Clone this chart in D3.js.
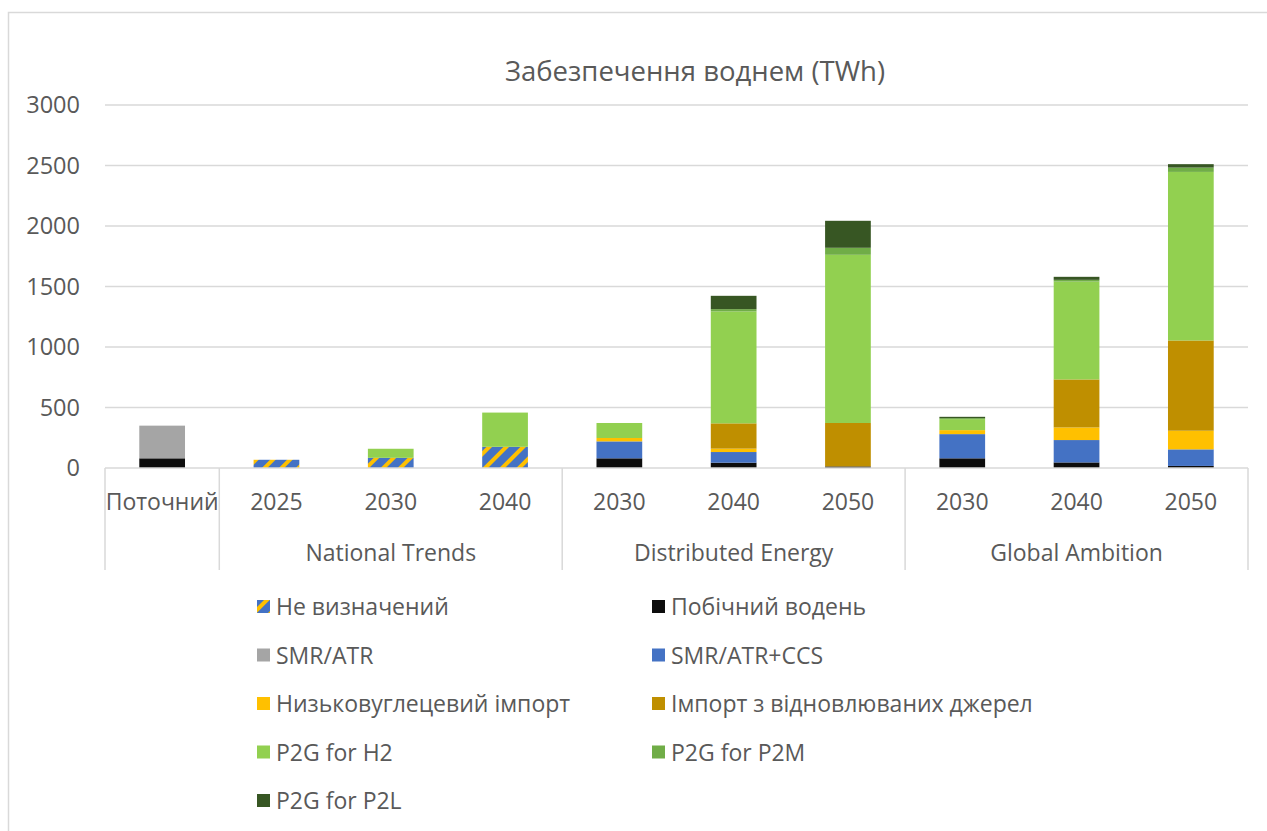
<!DOCTYPE html>
<html>
<head>
<meta charset="utf-8">
<script src="https://cdn.jsdelivr.net/npm/d3@7"></script>
<style>
body { margin:0; background:#fff; }
text { font-family:"Open Sans", "Noto Sans", sans-serif; fill:#595959; }
</style>
</head>
<body>
<script>
// categories along x (index is the key, labels repeat)
var categories = ["Поточний","2025","2030","2040","2030","2040","2050","2030","2040","2050"];
var groupNames = ["", "National Trends", "Distributed Energy", "Global Ambition"];
var groupStarts = [0, 1, 4, 7];
var groupEnds = [1, 4, 7, 10];
var yTicks = [0, 500, 1000, 1500, 2000, 2500, 3000];

var seriesNames = ["Не визначений","Побічний водень","SMR/ATR","SMR/ATR+CCS","Низьковуглецевий імпорт","Імпорт з відновлюваних джерел","P2G for H2","P2G for P2M","P2G for P2L"];
var undef      = [0, 68, 84, 175, 0, 0, 0, 0, 0, 0];
var byproduct  = [80, 0, 0, 0, 80, 44, 13, 80, 46, 17];
var smrAtr     = [270, 0, 0, 0, 0, 0, 0, 0, 0, 0];
var smrCcs     = [0, 0, 0, 0, 140, 88, 0, 200, 185, 137];
var lowCarbon  = [0, 0, 0, 0, 28, 28, 0, 33, 104, 154];
var renewImp   = [0, 0, 0, 0, 0, 209, 359, 0, 397, 746];
var p2gH2      = [0, 0, 75, 283, 124, 925, 1390, 91, 809, 1393];
var p2gP2M     = [0, 0, 0, 0, 0, 19, 58, 8, 14, 36];
var p2gP2L     = [0, 0, 0, 0, 0, 110, 223, 11, 25, 28];

var colors = ["url(#hatch)","#0D0D0D","#A5A5A5","#4472C4","#FFC000","#BF8F00","#92D050","#70AD47","#375623"];

var seriesVals = [undef, byproduct, smrAtr, smrCcs, lowCarbon, renewImp, p2gH2, p2gP2M, p2gP2L];
var rows = categories.map(function(c, i){
  var r = {idx:i};
  seriesNames.forEach(function(s, j){ r[s] = seriesVals[j][i]; });
  return r;
});

var width = 1267, height = 831;
var plot = {left:105, right:1248, top:105, bottom:468};

var svg = d3.select("body").append("svg").attr("width",width).attr("height",height);

var defs = svg.append("defs");
var pat = defs.append("pattern").attr("id","hatch").attr("patternUnits","userSpaceOnUse")
  .attr("width",12).attr("height",12).attr("patternTransform","rotate(45)");
pat.append("rect").attr("width",12).attr("height",12).attr("fill","#4472C4");
pat.append("rect").attr("x",0).attr("width",4).attr("height",12).attr("fill","#FFC000");

// outer chart border
svg.append("rect").attr("x",8.5).attr("y",12.5).attr("width",1270).attr("height",830)
  .attr("fill","none").attr("stroke","#d9d9d9").attr("stroke-width",1.5);

var x = d3.scaleBand().domain(d3.range(categories.length)).range([plot.left, plot.right])
  .paddingInner(0.6).paddingOuter(0.3);
var y = d3.scaleLinear().domain([0, 3000]).range([plot.bottom, plot.top]);

// gridlines
svg.append("g").selectAll("line").data(yTicks.slice(1)).enter().append("line")
  .attr("x1",plot.left).attr("x2",plot.right)
  .attr("y1",function(d){ return y(d); }).attr("y2",function(d){ return y(d); })
  .attr("stroke","#d9d9d9").attr("stroke-width",1.5);

// y tick labels
svg.append("g").selectAll("text").data(yTicks).enter().append("text")
  .attr("x",80).attr("y",function(d){ return y(d)+8; })
  .attr("text-anchor","end").style("font-size","23.5px")
  .text(function(d){ return d; });

// title
svg.append("text").attr("x",695).attr("y",81).attr("text-anchor","middle")
  .style("font-size","27.5px").text("Забезпечення воднем (TWh)");

// stacked bars
var stack = d3.stack().keys(seriesNames);
var layers = stack(rows);
svg.append("g").selectAll("g").data(layers).enter().append("g")
  .attr("fill",function(d,i){ return colors[i]; })
  .selectAll("rect").data(function(d){ return d; }).enter().append("rect")
    .filter(function(d){ return d[1]-d[0] > 0; })
    .attr("x",function(d,i){ return x(d.data.idx); })
    .attr("width",x.bandwidth())
    .attr("y",function(d){ return y(d[1]); })
    .attr("height",function(d){ return y(d[0]) - y(d[1]); });

// category axis
var step = x.step();
function edge(i){ return plot.left + i*step; }
var axisG = svg.append("g");
axisG.append("line").attr("x1",plot.left).attr("x2",plot.right).attr("y1",plot.bottom).attr("y2",plot.bottom)
  .attr("stroke","#d9d9d9").attr("stroke-width",1.5);
var dividers = [0].concat(groupEnds);
axisG.selectAll("line.div").data(dividers).enter().append("line").attr("class","div")
  .attr("x1",function(d){ return edge(d); }).attr("x2",function(d){ return edge(d); })
  .attr("y1",plot.bottom).attr("y2",570)
  .attr("stroke","#d9d9d9").attr("stroke-width",1.5);
axisG.selectAll("text.cat").data(categories).enter().append("text").attr("class","cat")
  .attr("x",function(d,i){ return x(i)+x.bandwidth()/2; }).attr("y",510)
  .attr("text-anchor","middle").style("font-size","23px")
  .text(function(d){ return d; });
axisG.selectAll("text.grp").data(groupNames).enter().append("text").attr("class","grp")
  .attr("x",function(d,i){ return (edge(groupStarts[i])+edge(groupEnds[i]))/2; }).attr("y",561)
  .attr("text-anchor","middle").style("font-size","23px")
  .text(function(d){ return d; });

// legend
var legend = svg.append("g").selectAll("g").data(seriesNames).enter().append("g")
  .attr("transform",function(d,i){
    var col = i % 2, row = Math.floor(i/2);
    return "translate("+(col ? 652 : 257)+","+(607 + row*48.5)+")";
  });
legend.append("rect").attr("x",0).attr("y",-7).attr("width",13).attr("height",13)
  .attr("fill",function(d,i){ return colors[i]; });
legend.append("text").attr("x",19).attr("y",8).style("font-size","23px")
  .text(function(d){ return d; });
</script>
</body>
</html>
